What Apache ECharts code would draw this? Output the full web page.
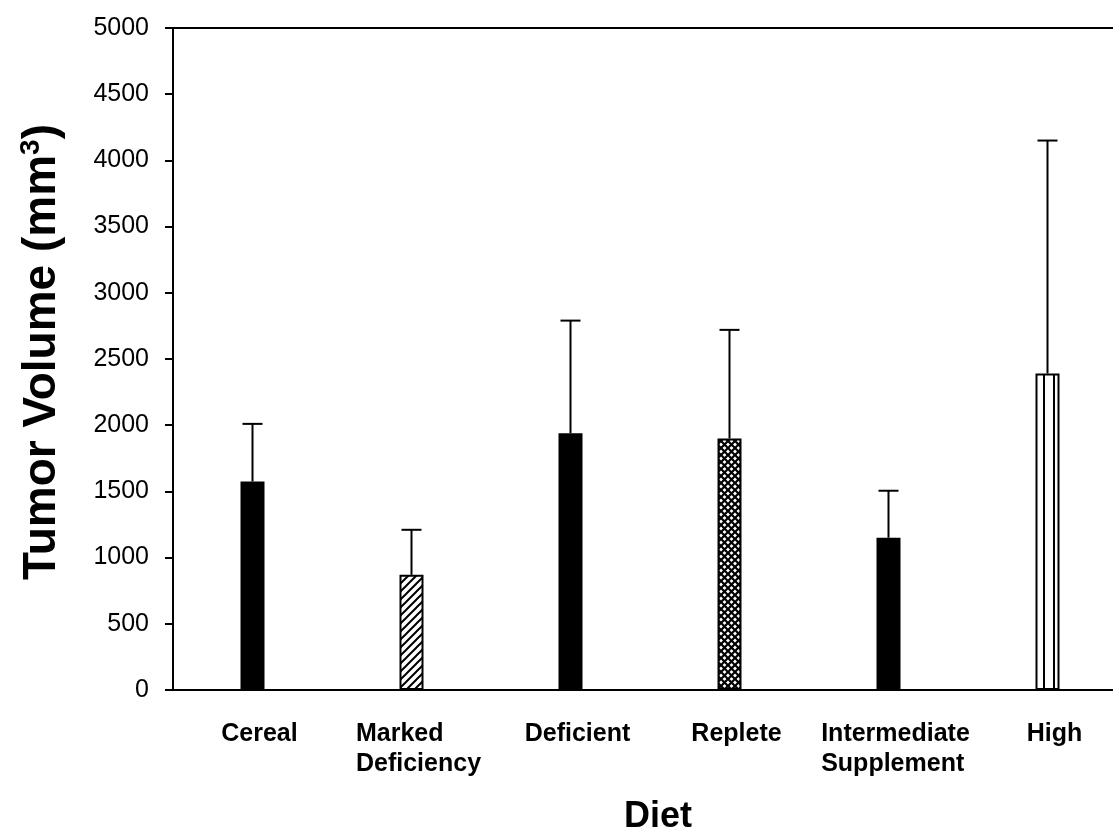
<!DOCTYPE html>
<html>
<head>
<meta charset="utf-8">
<script src="https://cdn.jsdelivr.net/npm/echarts@6/dist/echarts.min.js"></script>
<style>
html,body{margin:0;padding:0;background:#fff;}
#chart{width:1113px;height:834px;}
</style>
</head>
<body>
<div id="chart"></div>
<script>
// ---- data ----
const categories = ['Cereal', 'Marked\nDeficiency', 'Deficient', 'Replete', 'Intermediate\nSupplement', 'High'];
const meanVolume = [1575, 870, 1940, 1900, 1150, 2390];
const upperError = [2010, 1210, 2790, 2720, 1505, 4150];
const yTicks = [0, 500, 1000, 1500, 2000, 2500, 3000, 3500, 4000, 4500, 5000];

// ---- styles ----
const FONT = "'Liberation Sans', Arial, Helvetica, sans-serif";
function makePattern(kind) {
  const c = document.createElement('canvas');
  const ctx = c.getContext('2d');
  if (kind === 'hatch') {
    c.width = 8; c.height = 8;
    ctx.fillStyle = '#fff'; ctx.fillRect(0, 0, 8, 8);
    ctx.strokeStyle = '#000'; ctx.lineWidth = 2;
    ctx.beginPath();
    ctx.moveTo(-2, 10); ctx.lineTo(10, -2);
    ctx.moveTo(-2, 2); ctx.lineTo(2, -2);
    ctx.moveTo(6, 10); ctx.lineTo(10, 6);
    ctx.stroke();
  } else if (kind === 'cross') {
    c.width = 7; c.height = 7;
    ctx.fillStyle = '#fff'; ctx.fillRect(0, 0, 7, 7);
    ctx.strokeStyle = '#000'; ctx.lineWidth = 2.2;
    ctx.beginPath();
    ctx.moveTo(-1, 8); ctx.lineTo(8, -1);
    ctx.moveTo(-1, -1); ctx.lineTo(8, 8);
    ctx.stroke();
  } else if (kind === 'vert') {
    c.width = 10; c.height = 4;
    ctx.fillStyle = '#fff'; ctx.fillRect(0, 0, 10, 4);
    ctx.fillStyle = '#000'; ctx.fillRect(3, 0, 2, 4);
  }
  return { image: c, repeat: 'repeat' };
}
const barFills = ['#000', makePattern('hatch'), '#000', makePattern('cross'), '#000', makePattern('vert')];

const chart = echarts.init(document.getElementById('chart'), null, { renderer: 'canvas' });

const option = {
  backgroundColor: '#fff',
  animation: false,
  grid: { left: 173, top: 28, bottom: 144, width: 954, containLabel: false, outerBoundsMode: 'none' },
  xAxis: [{
    type: 'category',
    data: categories,
    position: 'bottom',
    axisLine: { show: true, lineStyle: { color: '#000', width: 2 } },
    axisTick: { show: false },
    axisLabel: {
      interval: 0,
      margin: 29,
      color: '#000',
      padding: [0, 0, 0, 14],
      formatter: v => v.split('\n').map(s => '{a|' + s + '}').join('\n'),
      rich: { a: { align: 'left', fontFamily: FONT, fontSize: 25, fontWeight: 'bold', lineHeight: 30, color: '#000' } }
    },
    name: 'Diet',
    nameLocation: 'middle',
    nameGap: 109,
    nameTextStyle: { fontFamily: FONT, fontSize: 36, fontWeight: 'bold', color: '#000', padding: [0, 0, 0, 16] }
  }, {
    type: 'category',
    data: categories,
    position: 'top',
    axisLine: { show: true, lineStyle: { color: '#000', width: 2 } },
    axisTick: { show: false },
    axisLabel: { show: false }
  }],
  yAxis: {
    type: 'value',
    min: yTicks[0],
    max: yTicks[yTicks.length - 1],
    interval: 500,
    axisLine: { show: true, lineStyle: { color: '#000', width: 2 } },
    axisTick: { show: true, inside: false, length: 8, lineStyle: { color: '#000', width: 2 } },
    splitLine: { show: false },
    axisLabel: { margin: 24, color: '#000', fontFamily: FONT, fontSize: 25, formatter: v => String(v) }
  },
  graphic: [{
    type: 'text',
    x: 42, y: 352,
    rotation: Math.PI / 2,
    style: {
      text: '{t|Tumor Volume (mm}{s|3}{t|)}',
      align: 'center', verticalAlign: 'middle',
      rich: {
        t: { fontFamily: FONT, fontSize: 46, fontWeight: 'bold', fill: '#000' },
        s: { fontFamily: FONT, fontSize: 28, fontWeight: 'bold', fill: '#000', verticalAlign: 'top', padding: [0, 0, 22, 0] }
      }
    }
  }],
  series: [{
    type: 'custom',
    z: 1,
    data: meanVolume.map((v, i) => [i, v, upperError[i]]),
    renderItem: function (params, api) {
      const base = api.coord([api.value(0), api.value(1)]);
      const top = api.coord([api.value(0), api.value(2)]);
      const half = 10;
      return {
        type: 'group',
        children: [
          { type: 'line', shape: { x1: base[0], y1: base[1], x2: top[0], y2: top[1] }, style: { stroke: '#000', lineWidth: 2 } },
          { type: 'line', shape: { x1: top[0] - half, y1: top[1], x2: top[0] + half, y2: top[1] }, style: { stroke: '#000', lineWidth: 2 } }
        ]
      };
    }
  }, {
    type: 'bar',
    z: 2,
    barWidth: 24,
    data: meanVolume.map((v, i) => ({ value: v, itemStyle: { color: barFills[i] } })),
    itemStyle: { borderColor: '#000', borderWidth: 2 }
  }]
};
chart.setOption(option);
</script>
</body>
</html>
